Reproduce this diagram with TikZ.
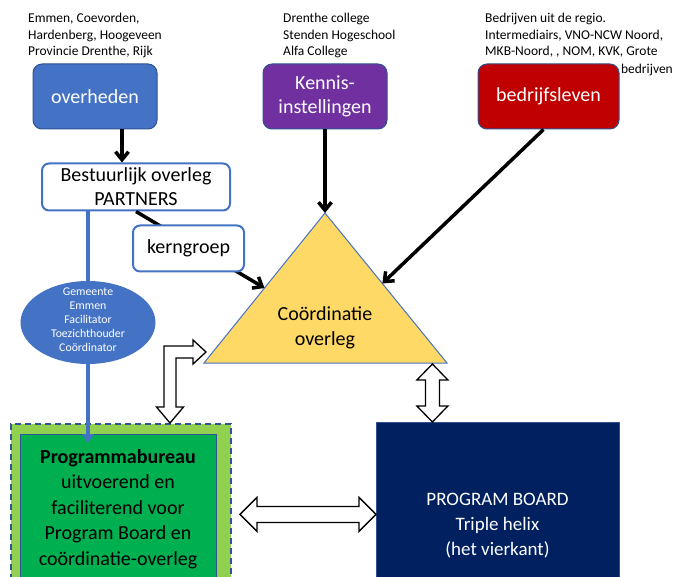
\documentclass[tikz,border=0pt]{standalone}
\usepackage{fontspec}
\setmainfont{Carlito}
\usepackage{tikz}
\usetikzlibrary{arrows.meta, positioning, calc, shapes.geometric}

\definecolor{ovblue}{HTML}{4472C4}
\definecolor{edgeblue}{HTML}{2F528F}
\definecolor{dashblue}{HTML}{2F5597}
\definecolor{kennispurple}{HTML}{7030A0}
\definecolor{bedrijfred}{HTML}{C00000}
\definecolor{triyellow}{HTML}{FFD966}
\definecolor{lightgreen}{HTML}{92D050}
\definecolor{bureaugreen}{HTML}{00B050}
\definecolor{boardnavy}{HTML}{002060}

\begin{document}
\begin{tikzpicture}[
    x=1pt, y=-1pt,
    captxt/.style={font=\fontsize{13.5}{16.5}\selectfont, align=left, inner sep=0pt},
    groupbox/.style={rectangle, draw=edgeblue, line width=1pt, rounded corners=9pt, minimum width=124pt, minimum height=65pt, text=white, align=center, font=\fontsize{20}{24}\selectfont},
    partnerbox/.style={rectangle, draw=ovblue, line width=2pt, fill=white, rounded corners=7pt, align=center, font=\fontsize{20}{24}\selectfont},
    arrow/.style={-{Straight Barb[length=8pt,width=13pt]}, line width=3.5pt},
    blueline/.style={-{Triangle[length=9pt,width=12pt]}, line width=4.5pt, draw=ovblue},
    blockarrow/.style={draw, fill=white, line width=1.3pt, line join=miter}
]
\useasboundingbox (0,0) rectangle (677,577);
\clip (0,0) rectangle (677,577);

% Groepen bovenaan
\node[groupbox, fill=ovblue] (overheden) at (95,96.5) {overheden};
\node[groupbox, fill=kennispurple] (kennis) at (325,96.5) {Kennis-\\instellingen};
\node[groupbox, fill=bedrijfred, minimum width=141pt] (bedrijf) at (548.5,96.5) {bedrijfsleven};

% Toelichting boven de groepen
\node[captxt, anchor=north west] (ovtxt) at (28,13) {Emmen, Coevorden,\\Hardenberg, Hoogeveen\\Provincie Drenthe, Rijk};
\node[captxt, anchor=north west] (kentxt) at (283,13) {Drenthe college\\Stenden Hogeschool\\Alfa College};
\node[captxt, anchor=north west] (bedrtxt) at (485,13) {Bedrijven uit de regio.\\Intermediairs, VNO-NCW Noord,\\MKB-Noord, , NOM, KVK, Grote};
\node[captxt, anchor=north east] (bedrtxt2) at (673,64) {bedrijven};

% Driehoek
\coordinate (apex) at (325,213);
\coordinate (bl) at (204,363);
\coordinate (br) at (447,363);
\draw[draw=ovblue, line width=1pt, fill=triyellow] (apex) -- (br) -- (bl) -- cycle;
\node[font=\fontsize{20}{25}\selectfont, align=center] (coord) at (325,327.5) {Coördinatie\\overleg};

% Programmabureau en Program Board
\node[rectangle, draw=dashblue, dash pattern=on 6pt off 4pt, line width=2pt, fill=lightgreen, minimum width=220pt, minimum height=170pt, anchor=north west] (pbouter) at (10,423) {};
\node[rectangle, draw=dashblue, line width=1pt, fill=bureaugreen, minimum width=196.5pt, minimum height=160pt, anchor=north west] (pbureau) at (19.5,434) {};
\node[font=\fontsize{20}{25.5}\selectfont, align=center] (pbtxt) at (118,509) {\textbf{Programmabureau}\\uitvoerend en\\faciliterend voor\\Program Board en\\coördinatie-overleg};

\node[rectangle, draw=edgeblue, line width=0.8pt, fill=boardnavy, minimum width=243pt, minimum height=170pt, anchor=north west] (board) at (376,422) {};
\node[text=white, font=\fontsize{19}{25}\selectfont, align=center] (boardtxt) at (497.5,526) {PROGRAM BOARD\\Triple helix\\(het vierkant)};

% Overleg
\node[partnerbox, minimum width=188pt, minimum height=47pt] (bestuur) at (136,187) {Bestuurlijk overleg\\PARTNERS};
\draw[arrow] (bestuur.south) -- ($(apex)!0.5!(bl)$);
\node[partnerbox, minimum width=111pt, minimum height=46pt] (kern) at (188.5,248.5) {kerngroep};

% Gemeente Emmen
\node[ellipse, minimum width=135pt, minimum height=83pt, inner sep=0pt] (gem) at (88,322.5) {};
\draw[blueline] (bestuur.south -| gem) -- ($(pbureau.north -| gem)+(0,9)$);
\fill[ovblue] (gem.center) ellipse [x radius=67.5pt, y radius=41.5pt];
\node[text=white, font=\fontsize{11.8}{14.1}\selectfont, align=center] (gemtxt) at (88,319.5) {Gemeente\\Emmen\\Facilitator\\Toezichthouder\\Coördinator};

% Pijlen naar overleg
\draw[arrow] ($(overheden.south)+(27,0)$) coordinate (ov1) -- (ov1 |- bestuur.north);
\draw[arrow] (kennis.south) -- (apex);
\draw[arrow] ($(bedrijf.south)+(-5,0)$) -- ($(apex)!0.47!(br)$);

% Blokpijlen
\draw[blockarrow] ($(pbouter.north)+(49,0)$) -- ++(-13.5,-16) -- ++(7.5,0) -- ++(0,-61) -- ++(29,0) -- ++(0,-6)
    -- ++(13,12) -- ++(-13,12) -- ++(0,-6) -- ++(-17,0) -- ++(0,49) -- ++(7.5,0) -- cycle;
\draw[blockarrow] ($(board.north)+(-65.5,0)$) -- ++(-15.5,-16) -- ++(8.5,0) -- ++(0,-26) -- ++(-8.5,0) -- ++(15.5,-16)
    -- ++(15.5,16) -- ++(-8.5,0) -- ++(0,26) -- ++(8.5,0) -- cycle;
\draw[blockarrow] ($(board.west)+(-136,7)$) -- ++(17,-17) -- ++(0,9) -- ++(102,0) -- ++(0,-9) -- ++(17,17)
    -- ++(-17,17) -- ++(0,-9) -- ++(-102,0) -- ++(0,9) -- cycle;

\end{tikzpicture}
\end{document}
